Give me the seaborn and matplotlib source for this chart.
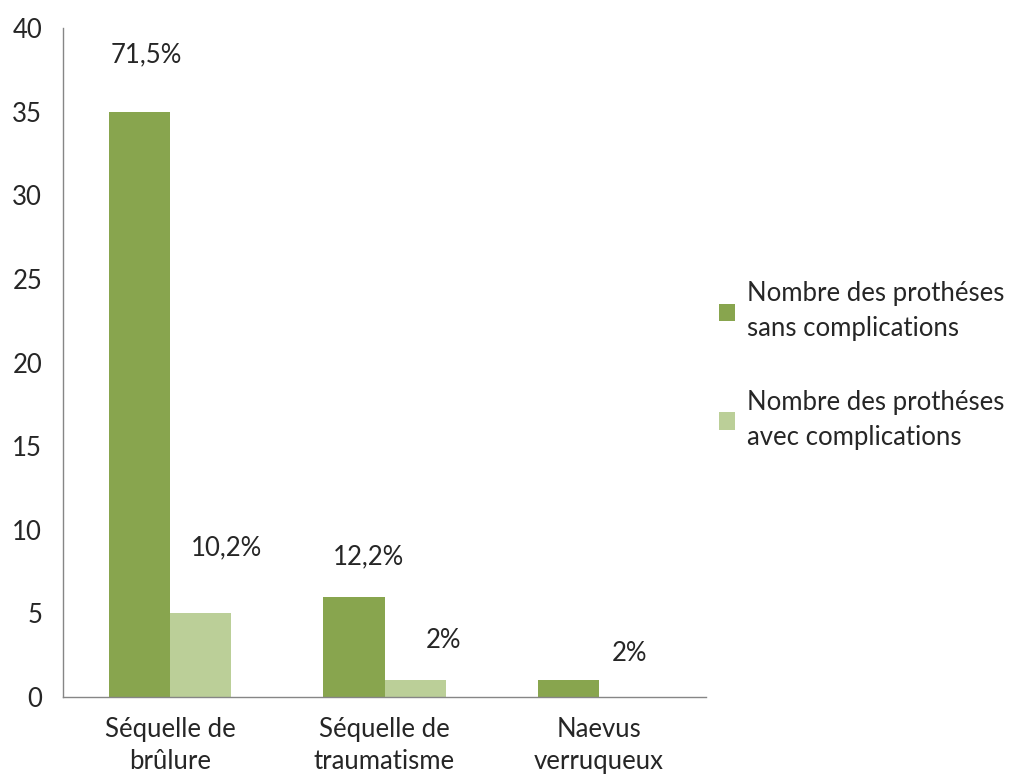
import pandas as pd
import numpy as np
import seaborn as sns
import matplotlib.pyplot as plt

categories = ['Séquelle de\nbrûlure', 'Séquelle de\ntraumatisme', 'Naevus\nverruqueux']
series = ['Nombre des prothéses\nsans complications', 'Nombre des prothéses\navec complications']
sans_compl = [35, 6, 1]
avec_compl = [5, 1, 0]
pct_sans = ['71,5%', '12,2%', '']
pct_avec = ['10,2%', '2%', '2%']

df = pd.DataFrame({
    'cat': categories * 2,
    'serie': [series[0]] * 3 + [series[1]] * 3,
    'n': sans_compl + avec_compl,
})

sns.set_style('white')
plt.rcParams['font.family'] = ['Lato', 'DejaVu Sans']
fs = 18.5

fig = plt.figure(figsize=(10.2, 7.78), dpi=100)
ax = fig.add_axes([0.0618, 0.104, 0.6304, 0.860])

sns.barplot(data=df, x='cat', y='n', hue='serie', palette=['#88A54E', '#BBCF98'],
            width=0.57, saturation=1, linewidth=0, ax=ax, legend=True)

ax.set_ylim(0, 40)
ax.set_xlim(-0.5, 2.5)
ax.set_yticks(np.arange(0, 41, 5))
ax.set_xlabel('')
ax.set_ylabel('')

grey = '#868686'
for s in ['top', 'right']:
    ax.spines[s].set_visible(False)
for s in ['left', 'bottom']:
    ax.spines[s].set_color(grey)
    ax.spines[s].set_linewidth(1)

# x ticks between categories, like excel
ax.set_xticks([-0.5, 0.5, 1.5, 2.5], minor=False)
ax.set_xticklabels([])
ax.set_xticks([0, 1, 2], minor=True)
ax.set_xticklabels(categories, minor=True, linespacing=1.35)
ax.tick_params(axis='x', which='major', length=10, color=grey, width=1)
ax.tick_params(axis='x', which='minor', length=0, pad=14, labelsize=fs)
ax.tick_params(axis='y', length=5, color=grey, width=1, labelsize=fs, pad=10)

# percentage labels, shifted like in the original
offs_sans = [(7, 57), (14, 40), (0, 0)]
offs_avec = [(26, 66), (28, 40), (0, 44)]
for cont, labels, offs in [(ax.containers[0], pct_sans, offs_sans),
                           (ax.containers[1], pct_avec, offs_avec)]:
    for bar, lab, (dx, dy) in zip(cont, labels, offs):
        if not lab:
            continue
        ax.annotate(lab, (bar.get_x() + bar.get_width() / 2, bar.get_height()),
                    xytext=(dx * 0.72, dy * 0.72), textcoords='offset points',
                    ha='center', va='center', fontsize=fs)

handles, labs = ax.get_legend_handles_labels()
ax.legend_.remove()
leg = fig.legend(handles, labs, loc='center left', bbox_to_anchor=(0.682, 0.53),
                 frameon=False, fontsize=fs, handlelength=0.65, handleheight=0.65,
                 handletextpad=0.45, labelspacing=1.9)
for t in leg.get_texts():
    t.set_linespacing(1.5)

fig.savefig('out.png', dpi=100)
